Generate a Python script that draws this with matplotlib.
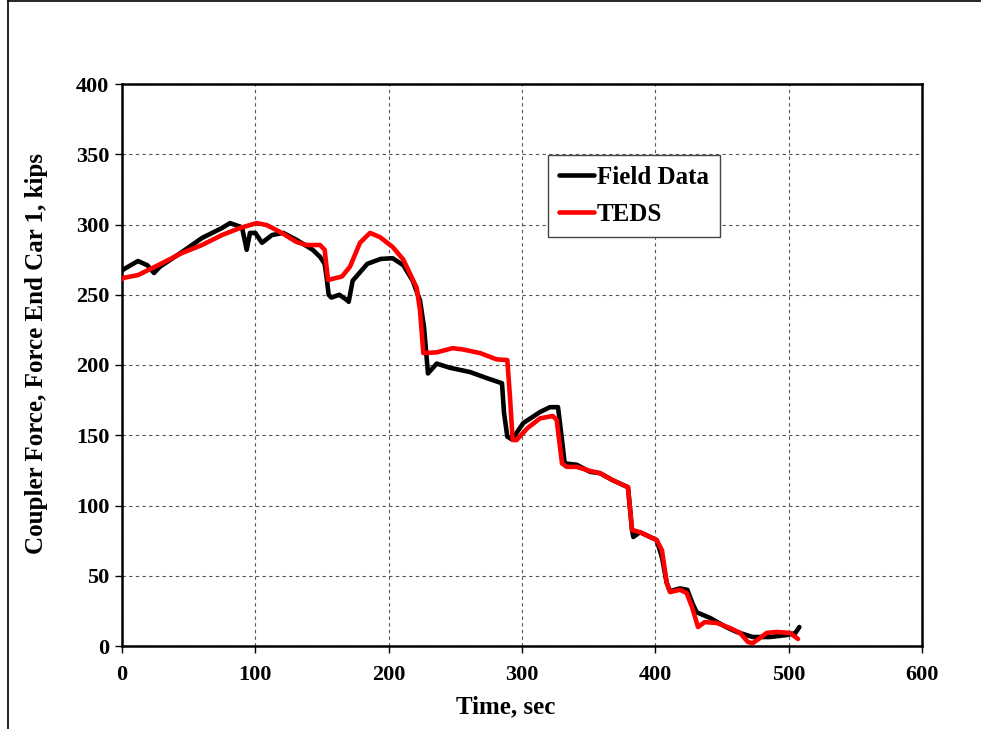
import matplotlib
matplotlib.use("Agg")
import matplotlib.pyplot as plt
from matplotlib.lines import Line2D

# Field Data (black)
field_t = [0, 1, 12, 19, 24, 28.5, 45, 60, 75, 81, 90, 93.5, 96, 100, 105, 112.5, 121, 131,
           143, 148.5, 152, 153.5, 155, 157, 163, 169, 170, 173, 184, 194, 203, 211, 218,
           223.5, 226.5, 229.5, 236, 246, 261, 273.5, 285, 286.5, 289, 292.5, 301, 313.5,
           321, 327, 330, 332, 341, 351, 358.5, 368, 379.5, 382.5, 383.5, 388.5, 401, 405,
           408.5, 411, 418.5, 424, 428, 431, 441, 453, 461, 473, 486, 498.5, 505, 508]
field_f = [267, 268, 274, 271, 265.5, 270, 280.4, 290.4, 297.5, 301, 298, 282, 294, 294, 287,
           292.5, 294, 289, 282, 277, 272, 262, 250, 248, 250, 246, 245, 260, 272, 275.5, 276,
           271, 260, 246, 227, 194, 201, 198, 195, 190.7, 187, 166, 149, 147, 158.7, 166.5,
           170, 170, 146.6, 130, 129, 124, 123, 118, 113, 82.6, 77.6, 81, 75.4, 63,
           45, 39, 41, 40, 30, 24, 20, 13.5, 10, 6.4, 6.4, 7.8, 9.2, 13.5]

# TEDS (red)
teds_t = [0, 1, 12, 27, 45, 60, 75, 88.5, 101, 108.5, 118.5, 131, 138.5, 148.5, 152, 154.5,
          165, 171, 178.5, 186, 193.5, 203, 211, 221, 223.5, 226, 236, 248, 256, 268.5, 281,
          289, 291, 293, 296, 304, 313.5, 323, 326, 330, 333.5, 341, 351, 358.5, 368, 379.5,
          382.5, 388.5, 401, 405, 408.5, 411, 418.5, 423.5, 427.5, 432, 437, 446, 456, 463.5,
          469.5, 473, 478.5, 483.5, 491, 501, 507]
teds_f = [261, 262, 264, 271, 279.7, 285.4, 292.5, 297.5, 301, 299.6, 294.7, 287.5, 285.4,
          285.4, 282, 260.5, 263, 270, 287, 294, 291, 284, 275, 255, 239, 208.5, 209, 212, 211,
          208.5, 204, 203.5, 177, 146.6, 146.6, 155, 162, 163.7, 161, 130, 127.5, 127.5, 124.6,
          123, 118, 113, 82.6, 81, 75.4, 68, 45, 38.4, 40, 37.7, 27.8, 13.5, 17, 16.4, 12.8,
          9.3, 2.8, 2, 5.7, 9.3, 10, 9.3, 5]

x_ticks = [0, 100, 200, 300, 400, 500, 600]
y_ticks = [0, 50, 100, 150, 200, 250, 300, 350, 400]

plt.rcParams['font.family'] = ['Liberation Serif', 'DejaVu Serif']
plt.rcParams['font.weight'] = 'bold'

fig = plt.figure(figsize=(9.81, 7.29), dpi=100)
ax = fig.add_axes([122/981, 1-646/729, 800/981, 562/729])

ax.plot(field_t, field_f, color='black', lw=3.3, label='Field Data',
        solid_joinstyle='round', solid_capstyle='round', zorder=3)
ax.plot(teds_t, teds_f, color='#ff0000', lw=3.3, label='TEDS',
        solid_joinstyle='round', solid_capstyle='round', zorder=4)

ax.set_xlim(0, 600)
ax.set_ylim(0, 400)
ax.set_xticks(x_ticks)
ax.set_yticks(y_ticks)
ax.grid(True, color='#555555', linestyle=(0, (3, 3)), linewidth=0.8)
ax.set_axisbelow(True)
for s in ax.spines.values():
    s.set_linewidth(1.8)
ax.tick_params(direction='out', length=5, width=1, labelsize=16)
ax.tick_params(axis='x', pad=9)
ax.tick_params(axis='y', pad=4)
for lab in ax.get_xticklabels() + ax.get_yticklabels():
    lab.set_fontweight('bold')

ax.set_xlabel('Time, sec', fontsize=18, fontweight='bold')
ax.set_ylabel('Coupler Force, Force End Car 1, kips', fontsize=18, fontweight='bold')
ax.xaxis.set_label_coords(0.479, -0.088)
ax.yaxis.set_label_coords(-0.092, 0.52)

leg = ax.legend(loc='upper left', bbox_to_anchor=(0.5325, 0.8737),
                frameon=True, fancybox=False, edgecolor='#444444', framealpha=1,
                handlelength=1.4, handletextpad=0.1, borderpad=0.45, labelspacing=0.55,
                borderaxespad=0, prop={'weight': 'bold', 'size': 18})
leg.get_frame().set_linewidth(1.0)

# outer figure border (left and top)
fig.add_artist(Line2D([8/981, 1], [1-1/729, 1-1/729], transform=fig.transFigure, color='black', lw=1.2))
fig.add_artist(Line2D([8/981, 8/981], [0, 1-1/729], transform=fig.transFigure, color='black', lw=1.2))

fig.savefig('out.png', dpi=100)
